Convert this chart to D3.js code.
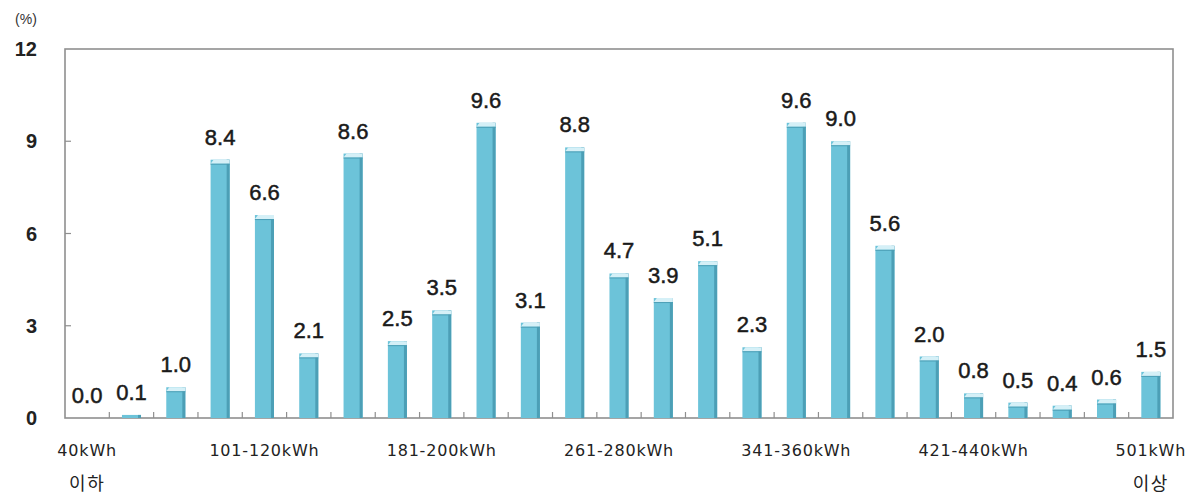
<!DOCTYPE html>
<html><head><meta charset="utf-8">
<script src="https://cdn.jsdelivr.net/npm/d3@7"></script>
<style>body{margin:0;background:#fff;}svg{display:block;}</style>
</head><body>
<svg id="c" width="1198" height="495"></svg>
<script>
const categories = ["40kWh 이하","41-60kWh","61-80kWh","81-100kWh","101-120kWh","121-140kWh","141-160kWh","161-180kWh","181-200kWh","201-220kWh","221-240kWh","241-260kWh","261-280kWh","281-300kWh","301-320kWh","321-340kWh","341-360kWh","361-380kWh","381-400kWh","401-420kWh","421-440kWh","441-460kWh","461-480kWh","481-500kWh","501kWh 이상"];
const values = [0.0,0.1,1.0,8.4,6.6,2.1,8.6,2.5,3.5,9.6,3.1,8.8,4.7,3.9,5.1,2.3,9.6,9.0,5.6,2.0,0.8,0.5,0.4,0.6,1.5];
const yTicks = [0,3,6,9,12];
const shownLabels = {0:["40kWh","이하"],4:["101-120kWh"],8:["181-200kWh"],12:["261-280kWh"],16:["341-360kWh"],20:["421-440kWh"],24:["501kWh","이상"]};

const svg = d3.select("#c");
const L=65,R=1173,T=49,B=418;
const x = d3.scaleBand().domain(categories).range([L,R]).paddingInner(0.57).paddingOuter(0.285);
const y = d3.scaleLinear().domain([0,12]).range([B,T]);
const font = "'Liberation Sans','Noto Sans CJK KR',Arial,sans-serif";
const xfont = "'DejaVu Sans','Noto Sans CJK KR',sans-serif";

// frame
svg.append("rect").attr("x",L).attr("y",T).attr("width",R-L).attr("height",B-T)
  .attr("fill","none").attr("stroke","#8f8f8f").attr("stroke-width",1.6);

// y ticks (inside)
svg.append("g").selectAll("line").data(yTicks.slice(1,-1)).join("line")
  .attr("x1",L).attr("x2",L+6).attr("y1",d=>y(d)).attr("y2",d=>y(d))
  .attr("stroke","#8f8f8f").attr("stroke-width",1.2);
svg.append("g").selectAll("text").data(yTicks).join("text")
  .attr("x",37).attr("y",d=>y(d)+7).attr("text-anchor","end")
  .attr("font-family",font).attr("font-size",20).attr("font-weight","bold").attr("fill","#222")
  .text(d=>d);
svg.append("text").attr("x",26).attr("y",24).attr("text-anchor","middle")
  .attr("font-family",font).attr("font-size",14).attr("fill","#333").text("(%)");

// x ticks between categories
const bounds = d3.range(1,categories.length).map(i=>L+i*(R-L)/categories.length);
svg.append("g").selectAll("line").data(bounds).join("line")
  .attr("x1",d=>d).attr("x2",d=>d).attr("y1",B).attr("y2",B-6)
  .attr("stroke","#8f8f8f").attr("stroke-width",1.2);

// bars
const g = svg.append("g");
const bw = x.bandwidth();
categories.forEach((c,i)=>{
  const v = values[i];
  if (v<=0) return;
  const x0 = x(c), yt = y(v), h = B-yt;
  g.append("rect").attr("x",x0).attr("y",yt).attr("width",bw).attr("height",h).attr("fill","#6cc3d9");
  g.append("rect").attr("x",x0+bw-3).attr("y",yt).attr("width",3).attr("height",h).attr("fill","#4c9fb6");
  if (h>6){
    g.append("path").attr("d",`M${x0},${yt+4} L${x0+3},${yt} L${x0+bw},${yt} L${x0+bw},${yt+4} Z`).attr("fill","#d5f0f7");
    g.append("line").attr("x1",x0).attr("x2",x0+bw).attr("y1",yt+4.5).attr("y2",yt+4.5).attr("stroke","#4c9fb6").attr("stroke-width",1);
  }
});

// value labels
svg.append("g").selectAll("text").data(categories).join("text")
  .attr("x",d=>x(d)+bw/2).attr("y",(d,i)=>y(values[i])-15)
  .attr("text-anchor","middle").attr("font-family",font).attr("font-size",22)
  .attr("fill","#1a1a1a").attr("stroke","#1a1a1a").attr("stroke-width",0.5)
  .text((d,i)=>values[i].toFixed(1));

// x labels
Object.entries(shownLabels).forEach(([i,lines])=>{
  const cx = x(categories[+i])+bw/2;
  lines.forEach((t,k)=>{
    const korean = /[가-힣]/.test(t);
    svg.append("text").attr("x",cx).attr("y",456+k*34).attr("text-anchor","middle")
      .attr("font-family",xfont).attr("font-size",korean?18:16).attr("letter-spacing",korean?1.5:0.8)
      .attr("fill","#222").text(t);
  });
});
</script>
</body></html>
